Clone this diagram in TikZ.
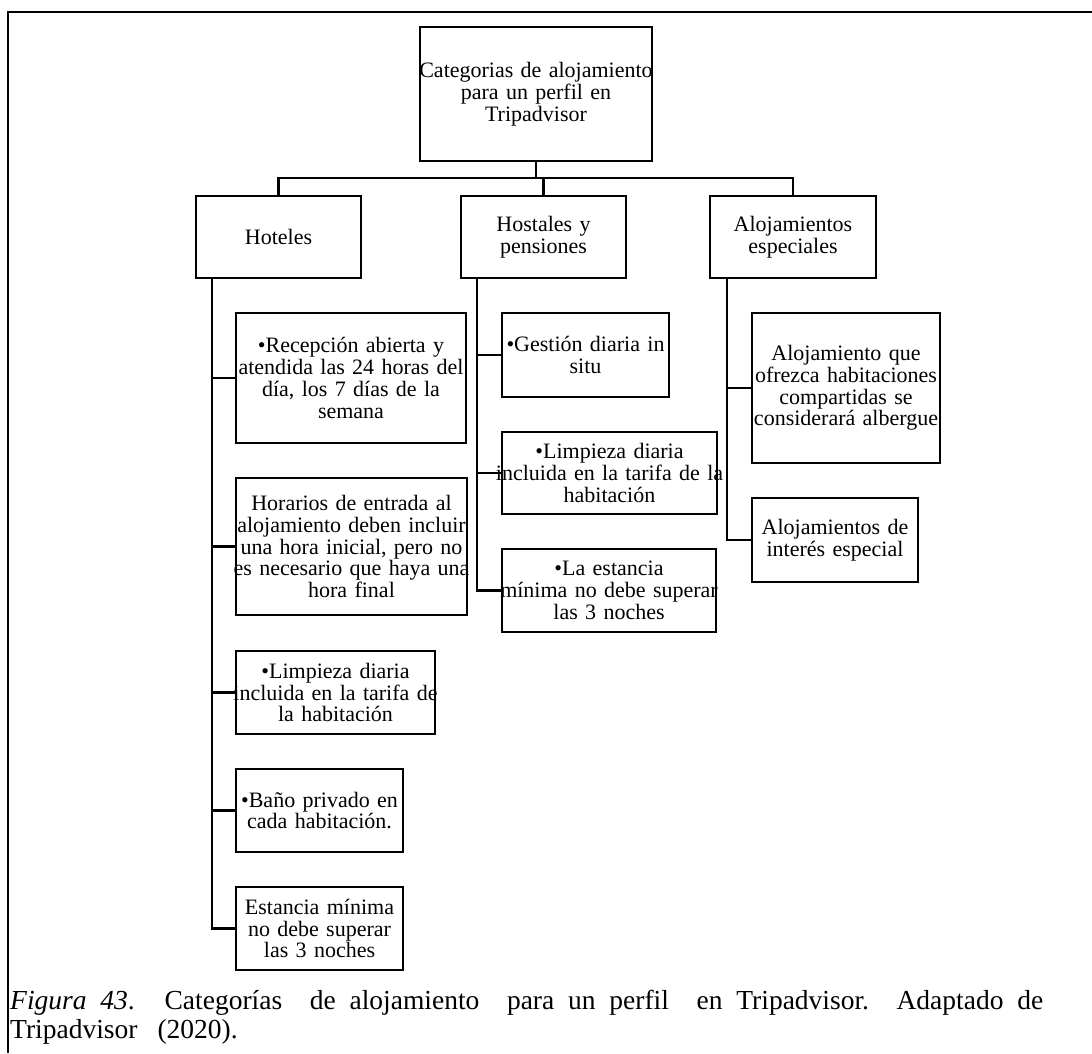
\documentclass[tikz,border=0pt]{standalone}
\usepackage{fontspec}
\setmainfont{Liberation Serif}
\newcommand\boxfont{\fontsize{22}{21.8}\selectfont}
\newcommand\capfont{\fontsize{27.5}{29}\selectfont}
% a line that may run up to the box edges: centred, never wrapped
\newcommand\wide[1]{\makebox[0pt]{#1}}
\begin{document}
\begin{tikzpicture}[x=1pt,y=-1pt,
  box/.style={draw, line width=2.2pt, inner sep=0pt, align=center, font=\boxfont},
  link/.style={line width=2.2pt},
  frame/.style={line width=2.4pt},
  captxt/.style={anchor=base west, inner sep=0pt, font=\capfont}]
\useasboundingbox (0,0) rectangle (1092,1053);

% open frame: top and left edges only
\draw[frame] (1092,12) -- (8,12) -- (8,1053);

% root
\node[box, minimum width=232pt, minimum height=134pt, text width=230pt] (root) at (536,94)
  {\wide{Categorias de alojamiento}\\para un perfil en\\Tripadvisor};

% second level
\node[box, minimum width=165pt, minimum height=82pt, text width=163pt] (hot) at (278.5,237) {Hoteles};
\node[box, minimum width=165pt, minimum height=82pt, text width=163pt] (hos) at (543.5,237) {Hostales y\\pensiones};
\node[box, minimum width=166pt, minimum height=82pt, text width=164pt] (esp) at (793,237) {Alojamientos\\especiales};

\coordinate (bus) at (536,178);
\draw[link] (root.south) -- (root.south |- bus);
\draw[link] (hot.north) |- (bus);
\draw[link] (esp.north) |- (bus);
\draw[link] (hos.north) -- (hos.north |- bus);

% Hoteles items
\node[box, minimum width=230pt, minimum height=130pt, text width=228pt] (h1) at (351,378)
  {•Recepción abierta y\\\wide{atendida las 24 horas del}\\día, los 7 días de la\\semana};
\node[box, minimum width=231pt, minimum height=137pt, text width=229pt] (h2) at (351.5,546.5)
  {Horarios de entrada al\\\wide{alojamiento deben incluir}\\una hora inicial, pero no\\\wide{es necesario que haya una}\\hora final};
\node[box, minimum width=199pt, minimum height=83pt, text width=197pt] (h3) at (335.5,692.5)
  {•Limpieza diaria\\\wide{incluida en la tarifa de}\\la habitación};
\node[box, minimum width=167pt, minimum height=83pt, text width=165pt] (h4) at (319.5,810.5)
  {•Baño privado en\\cada habitación.};
\node[box, minimum width=167pt, minimum height=83pt, text width=165pt] (h5) at (319.5,928.5)
  {Estancia mínima\\no debe superar\\las 3 noches};

\coordinate (hotT) at (212,278);
\foreach \c in {h1,h2,h3,h4,h5} \draw[link] (hotT) |- (\c.west);

% Hostales items
\node[box, minimum width=167pt, minimum height=84pt, text width=165pt] (s1) at (585.5,355)
  {•Gestión diaria in\\situ};
\node[box, minimum width=215pt, minimum height=82pt, text width=213pt] (s2) at (609.5,473)
  {•Limpieza diaria\\\wide{incluida en la tarifa de la}\\habitación};
\node[box, minimum width=214pt, minimum height=83pt, text width=212pt] (s3) at (609,590.5)
  {•La estancia\\\wide{mínima no debe superar}\\las 3 noches};

\coordinate (hosT) at (477,278);
\foreach \c in {s1,s2,s3} \draw[link] (hosT) |- (\c.west);

% special accommodation items
\node[box, minimum width=188pt, minimum height=150pt, text width=186pt] (e1) at (846,388)
  {Alojamiento que\\ofrezca habitaciones\\compartidas se\\\wide{considerará albergue}};
\node[box, minimum width=166pt, minimum height=84pt, text width=164pt] (e2) at (835,540)
  {Alojamientos de\\interés especial};

\coordinate (espT) at (727,278);
\foreach \c in {e1,e2} \draw[link] (espT) |- (\c.west);

% caption
\node[captxt] (cap1) at (10,1009)
  {\makebox[1033pt][s]{\textit{Figura 43}. Categorías\ \ de alojamiento\ \ para un perfil\ \ en Tripadvisor.\ \ Adaptado de}};
\node[captxt] (cap2) at (10,1038) {Tripadvisor\hspace{20pt}(2020).};
\end{tikzpicture}
\end{document}
